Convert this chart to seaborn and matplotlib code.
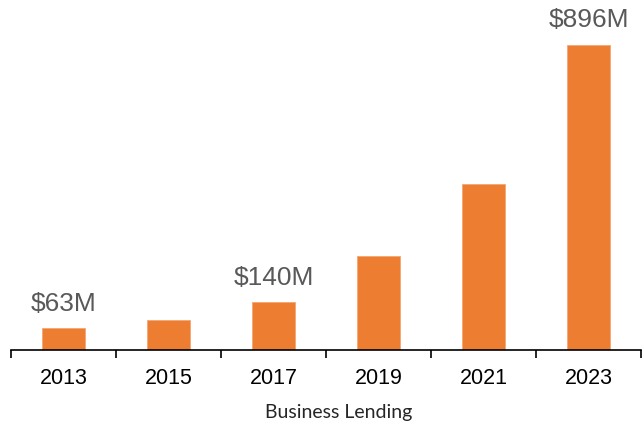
import matplotlib
matplotlib.use("Agg")
import matplotlib.pyplot as plt
import seaborn as sns
import pandas as pd
import numpy as np

years = ["2013", "2015", "2017", "2019", "2021", "2023"]
lending = [63, 87, 140, 275, 487, 896]
labels = ["$63M", "", "$140M", "", "", "$896M"]

sns.set_theme(style="white")
plt.rcParams["font.family"] = ["Liberation Sans", "DejaVu Sans"]

df = pd.DataFrame({"year": years, "lending": lending})

fig = plt.figure(figsize=(6.42, 4.21), dpi=100)
ax = fig.add_axes([11 / 642, 71.3 / 421, 630 / 642, 349.7 / 421])

sns.barplot(data=df, x="year", y="lending", color="#ED7D31", saturation=1,
            width=0.41, edgecolor="#F4A672", linewidth=0.6, ax=ax)

# value labels over selected bars
for i, (v, lab) in enumerate(zip(lending, labels)):
    if lab:
        ax.text(i, v + 36, lab, ha="center", va="bottom", fontsize=19, color="#595959")

ax.set_xlim(-0.5, 5.5)
ax.set_ylim(0, 1027)
ax.set_yticks([])
for side in ["top", "right", "left"]:
    ax.spines[side].set_visible(False)
ax.spines["bottom"].set_color("#000000")
ax.spines["bottom"].set_linewidth(1.2)

# tick marks between categories, labels at the centres
ax.set_xticks(np.arange(-0.5, 6.0, 1.0), minor=True)
ax.tick_params(axis="x", which="minor", bottom=True, length=6, width=1.2,
               color="#000000", direction="out")
ax.tick_params(axis="x", which="major", bottom=True, length=0, pad=13,
               labelsize=15.5, labelcolor="#000000")

ax.set_xlabel("Business Lending", fontsize=14, family=["Lato", "DejaVu Sans"])
ax.xaxis.set_label_coords(0.5206, -0.155)
ax.set_ylabel("")

fig.savefig("out.png", dpi=100)
